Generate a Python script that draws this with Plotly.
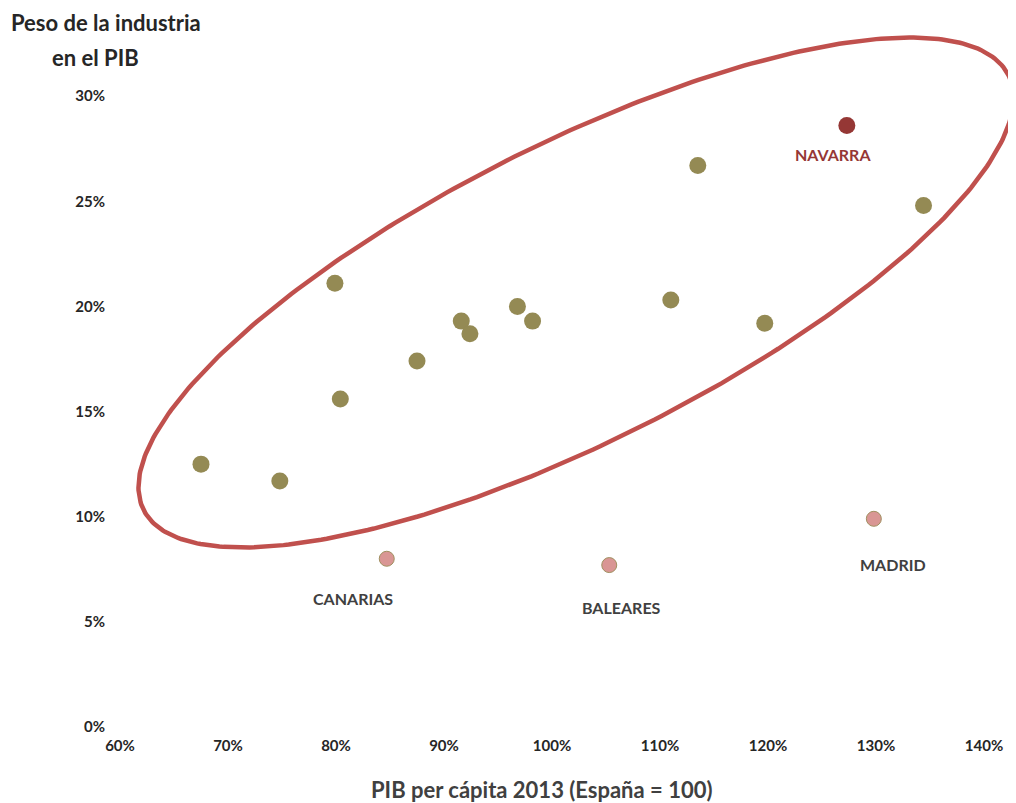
import numpy as np
import plotly.graph_objects as go

# ---- data (fractions) ----
pib_main = [0.675, 0.748, 0.799, 0.804, 0.875, 0.916, 0.924, 0.968, 0.982, 1.110, 1.135, 1.197, 1.344]
ind_main = [0.125, 0.117, 0.211, 0.156, 0.174, 0.193, 0.187, 0.200, 0.193, 0.203, 0.267, 0.192, 0.248]

nav_name = ["NAVARRA"]
nav_pib = [1.273]
nav_ind = [0.286]

out_names = ["CANARIAS", "BALEARES", "MADRID"]
out_pib = [0.847, 1.053, 1.298]
out_ind = [0.080, 0.077, 0.099]

x_ticks = [0.6, 0.7, 0.8, 0.9, 1.0, 1.1, 1.2, 1.3, 1.4]
y_ticks = [0, 0.05, 0.10, 0.15, 0.20, 0.25, 0.30]

# ---- geometry (page body has an 8px margin) ----
OFF = 8
W, H = 1016 - OFF, 803 - OFF
L, R, T = 120 - OFF, 0, 30 - OFF
B = H - (727 - OFF)
PW, PH = W - L - R, H - T - B
px_per_x = 1080.0   # pixels per 1.0 of x
px_per_y = 2103.0   # pixels per 1.0 of y
x0 = 0.60
x1 = x0 + PW / px_per_x
y0 = 0.0
y1 = PH / px_per_y

def paper_x(px):
    return (px - OFF - L) / PW

def paper_y(py):
    return (H - B - (py - OFF)) / PH

# ellipse (decoration) defined in reference-pixel space
ecx, ecy = 576, 292.5
ea, eb, eth = 484, 149, np.deg2rad(26.7)
t = np.linspace(0, 2 * np.pi, 400)
epx = ea * np.cos(t) * np.cos(eth) - eb * np.sin(t) * np.sin(eth)
epy = ea * np.cos(t) * np.sin(eth) + eb * np.sin(t) * np.cos(eth)
ell_x = x0 + (ecx - 120) / px_per_x + epx / px_per_x
ell_y = (727 - ecy) / px_per_y + epy / px_per_y

fig = go.Figure()
fig.add_trace(go.Scatter(x=ell_x, y=ell_y, mode="lines",
                         line=dict(color="#C0504D", width=4.5), hoverinfo="skip",
                         showlegend=False))
fig.add_trace(go.Scatter(x=pib_main, y=ind_main, mode="markers",
                         marker=dict(size=17, color="#948A54"), showlegend=False))
fig.add_trace(go.Scatter(x=nav_pib, y=nav_ind, mode="markers",
                         marker=dict(size=17, color="#953735"), showlegend=False))
fig.add_trace(go.Scatter(x=out_pib, y=out_ind, mode="markers",
                         marker=dict(size=15, color="#D99694",
                                     line=dict(color="#A09060", width=1)),
                         showlegend=False))

lab_font = dict(family="Lato", size=16, color="#404040")
# label offsets in pixels (dx, dy down)
nav_off = [(-14, 29)]
out_off = [(-34, 40), (12, 42), (19, 46)]
for n, xv, yv, (dx, dy) in zip(nav_name, nav_pib, nav_ind, nav_off):
    fig.add_annotation(x=xv, y=yv, text="<b>" + n + "</b>", showarrow=False,
                       xshift=dx, yshift=-dy,
                       font=dict(family="Lato", size=16, color="#953735"))
for n, xv, yv, (dx, dy) in zip(out_names, out_pib, out_ind, out_off):
    fig.add_annotation(x=xv, y=yv, text="<b>" + n + "</b>", showarrow=False,
                       xshift=dx, yshift=-dy, font=lab_font)

# titles
fig.add_annotation(xref="paper", yref="paper", x=paper_x(106), y=paper_y(22),
                   text="<b>Peso de la industria</b>", showarrow=False,
                   xanchor="center", yanchor="middle",
                   font=dict(family="Lato", size=22, color="#262626"))
fig.add_annotation(xref="paper", yref="paper", x=paper_x(95), y=paper_y(58),
                   text="<b>en el PIB</b>", showarrow=False,
                   xanchor="center", yanchor="middle",
                   font=dict(family="Lato", size=22, color="#262626"))
fig.add_annotation(xref="paper", yref="paper", x=paper_x(541), y=paper_y(789),
                   text="<b>PIB per cápita 2013 (España = 100)</b>", showarrow=False,
                   xanchor="center", yanchor="middle",
                   font=dict(family="Lato", size=22, color="#404040"))

fig.update_layout(
    width=W, height=H,
    margin=dict(l=L, r=R, t=T, b=B),
    plot_bgcolor="white", paper_bgcolor="white",
    xaxis=dict(range=[x0, x1], tickvals=x_ticks, tickformat=".0%",
               showgrid=False, zeroline=False, showline=False,
               ticklabelstandoff=8,
               tickfont=dict(family="Lato", size=15, color="#262626", weight="bold")),
    yaxis=dict(range=[y0, y1], tickvals=y_ticks, tickformat=".0%",
               showgrid=False, zeroline=False, showline=False,
               ticklabelstandoff=14,
               tickfont=dict(family="Lato", size=15, color="#262626", weight="bold")),
)

fig.write_html("out.html")
